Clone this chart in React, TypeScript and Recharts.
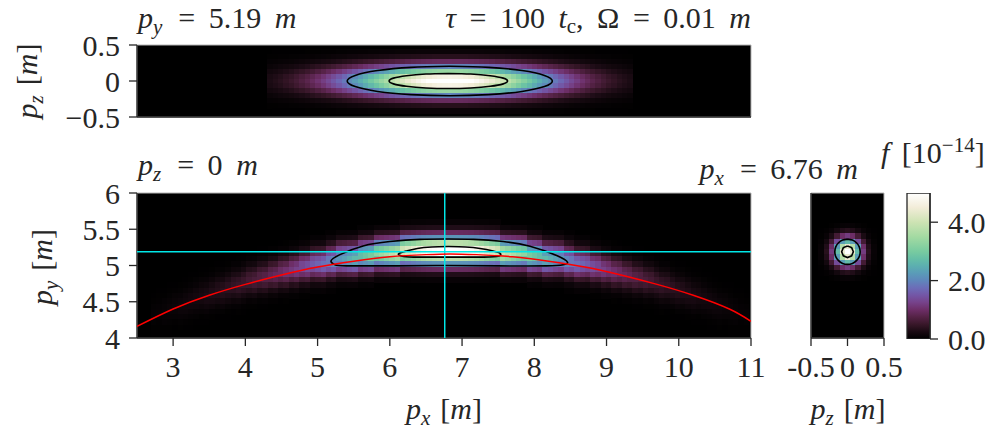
import { Bar, BarChart, ReferenceArea, Scatter, ScatterChart, XAxis, YAxis } from "recharts";

const W = 993;
const H = 430;
const FONT = "'Liberation Serif', serif";
const INK = "#262626";
const TICK = { fill: INK, fontSize: 30, fontFamily: FONT };

// f in units of 1e-16. Colour scale runs 0..5 (1e-14).
const colorStops: [number, string][] = [
  [0, "#000000"], [0.25, "#190a12"], [0.5, "#381729"], [0.75, "#542245"], [1, "#6d2e67"],
  [1.25, "#76428a"], [1.5, "#7356a6"], [1.75, "#6c6db8"], [2, "#5f86bb"], [2.25, "#5a9bb8"],
  [2.5, "#5cafb0"], [2.75, "#66bfa6"], [3, "#78cba0"], [3.5, "#a3daa2"], [4, "#cde3b3"],
  [4.5, "#f2ecd8"], [5, "#ffffff"],
];

const xTicks = [3, 4, 5, 6, 7, 8, 9, 10, 11];
const yTicks = [4, 4.5, 5, 5.5, 6];
const zTicks = [-0.5, 0, 0.5];
const barTicks = [0, 2, 4];

const blobCenterX = 6.83;
const cellDx = 0.0733;
const cellDy = 0.0726;
const topCellDz = 0.0685;
const sliceY = 5.19;
const sliceX = 6.76;

// top panel: rows going out from pz = 0, each row going out from the centre column
const topRows = [
  [520,518,515,508,499,488,474,459,442,423,403,382,360,338,316,293,271,249,228,207,188,169,152,135,120,106,93,81,71,61,53,45,38,32,27],
  [468,466,463,457,449,439,427,413,398,381,363,344,324,304,284,264,244,224,205,187,169,152,137,122,108,95,84,73,64,55,47,41,34,29,25],
  [338,337,335,330,324,317,308,298,287,275,262,248,234,220,205,190,176,162,148,135,122,110,99,88,78,69,60,53,46,40,34,29,25,21,18],
  [199,198,197,195,191,187,182,176,169,162,154,146,138,129,121,112,104,95,87,79,72,65,58,52,46,41,36,31,27,23,20,17,15,12,10],
  [94,93,93,92,90,88,85,83,80,76,73,69,65,61,57,53,49,45,41,37,34,30,27,24,22,19,17,15,13,11,9,8,7,6,5],
  [36,36,36,36,35,34,33,32,31,30,28,27,25,24,22,21,19,18,16,15,13,12,11,9,8,7,6,6,5,4,4,3,3,2,2],
  [11,11,11,11,11,11,11,10,10,10,9,8,8,8,7,7,6,6,5,5,4,4,3,3,3,2,2,2,1,1,1,1,1,1],
];

// bottom panel: [first row, values going down], one entry per column going out from the centre.
// row 0 is the top of the panel
const bottomColumns = [
  [5,8,31,95,218,381,502,502,381,218,95,31,8],
  [5,8,31,95,218,379,500,500,379,218,95,31,8],
  [5,8,31,94,216,377,497,497,377,216,94,31,8],
  [5,8,31,93,214,373,493,493,373,214,93,31,8],
  [5,8,30,92,210,366,483,483,366,210,92,30,8],
  [5,7,29,89,205,357,471,471,357,205,89,29,7],
  [5,7,28,86,197,344,454,454,344,197,86,28,7],
  [5,7,27,82,189,329,435,435,329,189,82,27,7],
  [5,6,26,79,181,316,417,417,316,181,79,26,6],
  [5,6,25,76,174,304,401,401,304,174,76,25,6],
  [6,12,43,115,230,348,400,348,230,115,43,12],
  [6,12,41,109,218,331,380,331,218,109,41,12],
  [6,11,39,104,208,315,362,315,208,104,39,11],
  [6,11,37,99,198,300,345,300,198,99,37,11],
  [6,10,36,95,189,287,330,287,189,95,36,10],
  [6,5,19,57,131,228,301,301,228,131,57,19,5],
  [6,4,18,54,124,217,286,286,217,124,54,18,4],
  [6,4,17,51,118,205,270,270,205,118,51,17,4],
  [7,8,29,76,152,231,265,231,152,76,29,8],
  [7,8,27,72,144,218,250,218,144,72,27,8],
  [7,7,25,67,133,202,232,202,133,67,25,7],
  [7,7,24,63,125,190,218,190,125,63,24,7],
  [7,3,12,38,86,150,198,198,150,86,38,12,3],
  [7,3,12,35,81,141,185,185,141,81,35,12,3],
  [8,6,19,51,102,155,178,155,102,51,19,6],
  [8,5,18,48,95,144,166,144,95,48,18,5],
  [8,5,17,44,89,135,155,135,89,44,17,5],
  [8,2,9,27,61,106,140,140,106,61,27,9,2],
  [8,2,8,25,57,99,130,130,99,57,25,8,2],
  [9,4,14,36,72,109,125,109,72,36,14,4],
  [9,4,12,33,66,100,115,100,66,33,12,4],
  [9,2,6,20,45,79,104,104,79,45,20,6,2],
  [9,1,6,18,41,72,95,95,72,41,18,6,1],
  [10,3,10,26,53,80,92,80,53,26,10,3],
  [10,3,9,24,49,74,85,74,49,24,9,3],
  [10,1,5,14,33,57,75,75,57,33,14,5,1],
  [10,1,4,13,30,53,70,70,53,30,13,4,1],
  [11,2,7,19,38,57,66,57,38,19,7,2],
  [11,2,6,17,34,52,60,52,34,17,6,2],
  [11,1,3,10,22,39,51,51,39,22,10,3,1],
  [12,2,5,14,28,43,49,43,28,14,5,2],
  [12,1,5,13,26,39,45,39,26,13,5,1],
  [12,1,2,7,17,29,39,39,29,17,7,2,1],
  [13,1,4,11,21,32,37,32,21,11,4,1],
  [13,1,4,9,19,29,33,29,19,9,4,1],
  [13,0,2,5,13,22,29,29,22,13,5,2,0],
  [14,1,3,8,15,23,27,23,15,8,3,1],
  [14,1,2,7,13,20,23,20,13,7,2,1],
  [14,0,1,4,8,15,19,19,15,8,4,1,0],
  [15,1,2,5,10,16,18,16,10,5,2,1],
  [15,0,1,3,7,12,15,15,12,7,3,1,0],
  [16,0,2,4,8,12,14,12,8,4,2,0],
  [16,0,1,3,7,10,12,10,7,3,1,0],
  [16,0,1,2,4,7,10,10,7,4,2,1,0],
  [17,0,1,2,5,7,8,7,5,2,1,0],
  [17,0,1,2,3,5,6,5,3,2,1,0],
  [17,0,0,1,2,4,5,5,4,2,1,0,0],
];

// right panel, full grid around (pz = 0, py = 5.19)
const sideRows = [
  [0,0,2,4,7,8,7,4,2,0,0],
  [1,3,8,19,31,36,31,19,8,3,1],
  [2,8,26,60,99,117,99,60,26,8,2],
  [4,19,60,138,227,268,227,138,60,19,4],
  [7,31,99,227,373,440,373,227,99,31,7],
  [8,36,117,268,440,520,440,268,117,36,8],
  [7,31,99,227,373,440,373,227,99,31,7],
  [4,19,60,138,227,268,227,138,60,19,4],
  [2,8,26,60,99,117,99,60,26,8,2],
  [1,3,8,19,31,36,31,19,8,3,1],
  [0,0,2,4,7,8,7,4,2,0,0],
];

// contours, the red curve and the two cyan cuts
const topOuter = [[6.83,0.205],[7.37,0.189],[7.83,0.145],[8.14,0.078],[8.25,0],[8.14,-0.078],[7.83,-0.145],[7.37,-0.189],[6.83,-0.205],[6.29,-0.189],[5.83,-0.145],[5.52,-0.078],[5.41,0],[5.52,0.078],[5.83,0.145],[6.29,0.189],[6.83,0.205]];
const topInner = [[6.81,0.105],[7.12,0.097],[7.39,0.074],[7.57,0.04],[7.63,0],[7.57,-0.04],[7.39,-0.074],[7.12,-0.097],[6.81,-0.105],[6.5,-0.097],[6.23,-0.074],[6.05,-0.04],[5.99,0],[6.05,0.04],[6.23,0.074],[6.5,0.097],[6.81,0.105]];
const bottomOuter = [[6.79,5.365],[7.16,5.36],[7.57,5.33],[7.94,5.265],[8.31,5.137],[8.46,5.045],[8.4,5.01],[8.17,4.995],[7.5,4.995],[6.79,5],[6.1,4.995],[5.4,4.995],[5.24,5.01],[5.185,5.06],[5.31,5.15],[5.63,5.27],[6,5.33],[6.42,5.36],[6.79,5.365]];
const bottomInner = [[6.81,5.262],[7.05,5.255],[7.25,5.235],[7.43,5.2],[7.53,5.165],[7.48,5.125],[7.2,5.115],[6.81,5.115],[6.4,5.115],[6.19,5.125],[6.12,5.16],[6.23,5.2],[6.38,5.235],[6.58,5.255],[6.81,5.262]];
const sideOuter = [[0,5.364],[0.067,5.351],[0.123,5.313],[0.161,5.257],[0.174,5.19],[0.161,5.123],[0.123,5.067],[0.067,5.029],[0,5.016],[-0.067,5.029],[-0.123,5.067],[-0.161,5.123],[-0.174,5.19],[-0.161,5.257],[-0.123,5.313],[-0.067,5.351],[0,5.364]];
const sideInner = [[0,5.27],[0.057,5.247],[0.08,5.19],[0.057,5.133],[0,5.11],[-0.057,5.133],[-0.08,5.19],[-0.057,5.247],[0,5.27]];
const shellCurve = [[2.5,4.16],[3,4.4],[3.5,4.59],[4,4.74],[4.5,4.87],[5,4.98],[5.5,5.06],[6,5.12],[6.5,5.15],[6.83,5.16],[7.2,5.15],[7.7,5.12],[8.2,5.06],[8.7,4.98],[9.2,4.87],[9.7,4.74],[10.2,4.59],[10.7,4.4],[11,4.23]];
const cutVertical = [[sliceX,4],[sliceX,6]];
const cutHorizontal = [[2.5,sliceY],[11,sliceY]];

const toPoints = (pts: number[][]) => pts.map(([x, y]) => ({ x, y }));

function heatColor(f: number) {
  const v = Math.min(f, 5);
  for (let i = 1; i < colorStops.length; i++) {
    const [hi, c1] = colorStops[i];
    const [lo, c0] = colorStops[i - 1];
    if (v <= hi) {
      const t = (v - lo) / (hi - lo);
      const mix = (s: number) =>
        Math.round(parseInt(c0.slice(s, s + 2), 16) * (1 - t) + parseInt(c1.slice(s, s + 2), 16) * t);
      return `rgb(${mix(1)},${mix(3)},${mix(5)})`;
    }
  }
  return "#ffffff";
}

// the blob is left-right symmetric in the picture, so only one half is listed
const topCells = topRows.flatMap((row, i) =>
  (i === 0 ? [0] : [i, -i]).flatMap((r) =>
    row.flatMap((v, k) =>
      (k === 0 ? [0] : [k, -k]).map((c) => ({ x: blobCenterX + c * cellDx, y: r * topCellDz, f: v / 100 }))
    )
  )
);
const bottomCells = bottomColumns.flatMap(([first, ...vals], k) =>
  (k === 0 ? [0] : [k, -k]).flatMap((c) =>
    vals.map((v, r) => ({ x: blobCenterX + c * cellDx, y: 6 - (first + r + 0.5) * cellDy, f: v / 100 }))
  )
).filter((d) => d.f > 0);
const sideCells = sideRows.flatMap((row, j) =>
  row.map((v, i) => ({ x: (i - 5) * cellDy, y: sliceY + (5 - j) * cellDy, f: v / 100 }))
).filter((d) => d.f > 0);

const cellShape = (w: number, h: number) => (p: any) => (
  <rect
    x={p.cx - w / 2}
    y={p.cy - h / 2}
    width={w + 0.5}
    height={h + 0.5}
    fill={heatColor(p.payload.f)}
    shapeRendering="crispEdges"
  />
);
const noDot = () => <g />;

const axisProps = {
  tickSize: 8,
  interval: 0 as const,
  allowDataOverflow: true,
  stroke: INK,
  tick: TICK,
  axisLine: { stroke: INK, strokeWidth: 1.3 },
  tickLine: { stroke: INK, strokeWidth: 1.3 },
};

function Panel({ left, right, top, bottom, xDomain, yDomain, xTicksList, yTicksList, xLabels, yLabels, yFmt, children }: any) {
  return (
    <div style={{ position: "absolute", left: 0, top: 0 }}>
      <ScatterChart width={W} height={H} margin={{ left, right: W - right, top, bottom: H - bottom }}>
        <XAxis
          type="number"
          dataKey="x"
          domain={xDomain}
          ticks={xTicksList}
          height={1}
          tickMargin={10}
          {...axisProps}
          tick={xLabels ? TICK : false}
        />
        <YAxis
          type="number"
          dataKey="y"
          domain={yDomain}
          ticks={yTicksList}
          width={1}
          tickMargin={9}
          {...axisProps}
          tick={yLabels ? TICK : false}
          tickFormatter={yFmt}
        />
        <ReferenceArea
          x1={xDomain[0]}
          x2={xDomain[1]}
          y1={yDomain[0]}
          y2={yDomain[1]}
          fill="#000000"
          fillOpacity={1}
          stroke="#b5b5b5"
          strokeWidth={1}
        />
        {children}
      </ScatterChart>
    </div>
  );
}

const contourLine = { stroke: "#000000", strokeWidth: 1.6 };
const cutLine = { stroke: "#00e8e8", strokeWidth: 1.5 };

function Mi({ children }: any) {
  return <tspan fontStyle="italic">{children}</tspan>;
}
function Sub({ children }: any) {
  return (
    <>
      <tspan fontStyle="italic" fontSize={21} dy={6}>{children}</tspan>
      <tspan dy={-6}>{"\u200a"}</tspan>
    </>
  );
}

function Labels() {
  const common = { fill: INK, fontSize: 30, fontFamily: FONT };
  const title = { ...common, wordSpacing: 6 };
  return (
    <svg width={W} height={H} style={{ position: "absolute", left: 0, top: 0 }}>
      <text x={138} y={28} {...title}><Mi>p</Mi><Sub>y</Sub> = 5.19 <Mi>m</Mi></text>
      <text x={751} y={28} textAnchor="end" {...title}><Mi>τ</Mi> = 100 <Mi>t</Mi><tspan fontSize={21} dy={5}>c</tspan><tspan dy={-5}>, Ω = 0.01 </tspan><Mi>m</Mi></text>
      <text x={138} y={175} {...title}><Mi>p</Mi><Sub>z</Sub> = 0 <Mi>m</Mi></text>
      <text x={858} y={179} textAnchor="end" {...title}><Mi>p</Mi><Sub>x</Sub> = 6.76 <Mi>m</Mi></text>
      <text x={881} y={163} {...common} wordSpacing={5}><Mi>f</Mi> [10<tspan fontSize={21} dy={-11}>−14</tspan><tspan dy={11}>]</tspan></text>
      <text x={444} y={419} textAnchor="middle" {...common}><Mi>p</Mi><Sub>x</Sub> [<Mi>m</Mi>]</text>
      <text x={848} y={419} textAnchor="middle" {...common}><Mi>p</Mi><Sub>z</Sub> [<Mi>m</Mi>]</text>
      <text transform="translate(37,81) rotate(-90)" textAnchor="middle" {...common}><Mi>p</Mi><Sub>z</Sub> [<Mi>m</Mi>]</text>
      <text transform="translate(52,267) rotate(-90)" textAnchor="middle" {...common}><Mi>p</Mi><Sub>y</Sub> [<Mi>m</Mi>]</text>
    </svg>
  );
}

export default function App() {
  return (
    <div style={{ position: "absolute", left: 0, top: 0, width: W, height: H, background: "#fff" }}>
      <Panel
        left={136} right={751} top={45} bottom={118}
        xDomain={[2.5, 11]} yDomain={[-0.5, 0.5]}
        xTicksList={xTicks} yTicksList={zTicks}
        xLabels={false} yLabels
        yFmt={(v: number) => (v < 0 ? `\u2212${-v}` : `${v}`)}
      >
        <Scatter data={topCells} shape={cellShape(5.3, 5)} isAnimationActive={false} />
        <Scatter data={toPoints(topOuter)} shape={noDot} line={contourLine} lineJointType="natural" isAnimationActive={false} />
        <Scatter data={toPoints(topInner)} shape={noDot} line={contourLine} lineJointType="natural" isAnimationActive={false} />
      </Panel>
      <Panel
        left={136} right={751} top={193} bottom={339}
        xDomain={[2.5, 11]} yDomain={[4, 6]}
        xTicksList={xTicks} yTicksList={yTicks}
        xLabels yLabels
      >
        <Scatter data={bottomCells} shape={cellShape(5.3, 5.3)} isAnimationActive={false} />
        <Scatter data={toPoints(bottomOuter)} shape={noDot} line={contourLine} lineJointType="natural" isAnimationActive={false} />
        <Scatter data={toPoints(bottomInner)} shape={noDot} line={contourLine} lineJointType="natural" isAnimationActive={false} />
        <Scatter data={toPoints(cutVertical)} shape={noDot} line={cutLine} isAnimationActive={false} />
        <Scatter data={toPoints(cutHorizontal)} shape={noDot} line={cutLine} isAnimationActive={false} />
        <Scatter data={toPoints(shellCurve)} shape={noDot} line={{ stroke: "#ff0000", strokeWidth: 1.5 }} lineJointType="natural" isAnimationActive={false} />
      </Panel>
      <Panel
        left={810} right={884} top={193} bottom={339}
        xDomain={[-0.5, 0.5]} yDomain={[4, 6]}
        xTicksList={zTicks} yTicksList={yTicks}
        xLabels yLabels={false}
      >
        <Scatter data={sideCells} shape={cellShape(5.3, 5.3)} isAnimationActive={false} />
        <Scatter data={toPoints(sideOuter)} shape={noDot} line={contourLine} lineJointType="natural" isAnimationActive={false} />
        <Scatter data={toPoints(sideInner)} shape={noDot} line={contourLine} isAnimationActive={false} />
      </Panel>
      <div style={{ position: "absolute", left: 0, top: 0 }}>
        <BarChart
          width={W}
          height={H}
          data={[{ name: "f", range: [0, 5] }]}
          margin={{ left: 907, right: W - 930 - 1, top: 193, bottom: H - 339 }}
          barCategoryGap={0}
        >
          <defs>
            <linearGradient id="fScale" x1="0" y1="1" x2="0" y2="0">
              {colorStops.map(([v, c]) => (
                <stop key={v} offset={v / 5} stopColor={c} />
              ))}
            </linearGradient>
          </defs>
          <XAxis dataKey="name" hide />
          <YAxis
            orientation="right"
            domain={[0, 5]}
            ticks={barTicks}
            width={1}
            tickMargin={10}
            {...axisProps}
            tickFormatter={(v: number) => v.toFixed(1)}
          />
          <Bar dataKey="range" fill="url(#fScale)" stroke={INK} strokeWidth={1.3} isAnimationActive={false} />
        </BarChart>
      </div>
      <Labels />
    </div>
  );
}
